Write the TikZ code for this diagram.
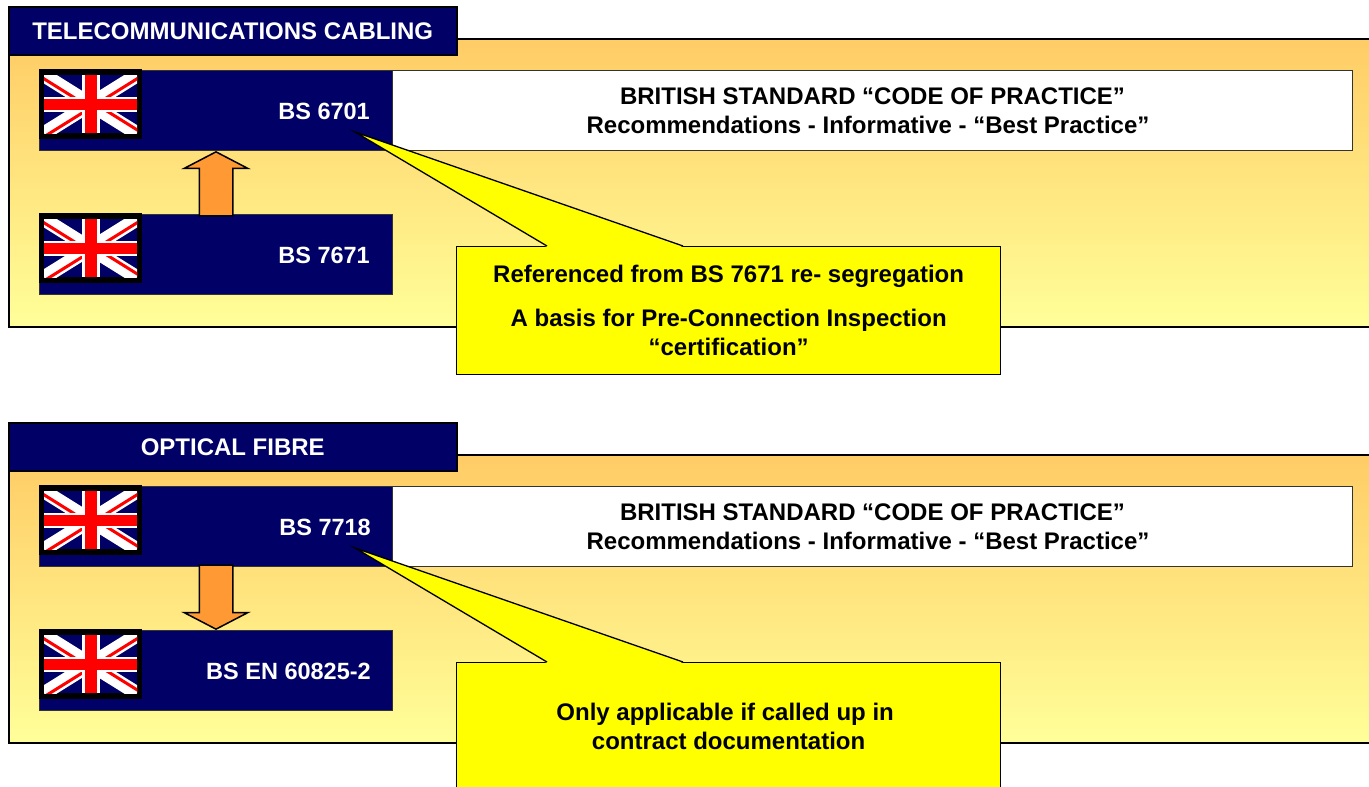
\documentclass[tikz,border=0pt]{standalone}
\usepackage{fontspec}
\setmainfont{Liberation Sans}
\usepackage{tikz}
\usetikzlibrary{calc,shapes.arrows}
\definecolor{navy}{rgb}{0,0,0.4}
\definecolor{panelTop}{rgb}{1,0.8,0.4}
\definecolor{panelBottom}{rgb}{1,1,0.6}
\definecolor{arrowOrange}{rgb}{1,0.6,0.2}
\definecolor{flagRed}{rgb}{1,0,0}
\definecolor{noteYellow}{rgb}{1,1,0}

% union flag, (#1,#2) is the top left corner of the black frame
\newcommand{\ukflag}[2]{
	\fill [black] (#1,#2) rectangle +(103,69.5);
	\begin{scope}[shift={(#1+5,#2+6.3)}]
		\clip (0,0) rectangle (93,58);
		\fill [navy] (0,0) rectangle (93,58);
		\draw [white, line width=14] (0,0) -- (93,58);
		\draw [white, line width=14] (93,0) -- (0,58);
		\draw [flagRed, line width=3] (-1.6,2.5) -- (44.9,31.5);
		\draw [flagRed, line width=3] (94.6,2.5) -- (48.1,31.5);
		\draw [flagRed, line width=3] (1.6,60.5) -- (48.1,31.5);
		\draw [flagRed, line width=3] (94.6,55.5) -- (48.1,26.5);
		\draw [white, line width=18] (46.8,0) -- (46.8,58);
		\draw [white, line width=15] (0,29) -- (93,29);
		\draw [flagRed, line width=12] (46.8,0) -- (46.8,58);
		\draw [flagRed, line width=10.5] (0,29) -- (93,29);
	\end{scope}
}

% tail of a yellow note, #1 is the note and #2 the tip
\newcommand{\notetail}[2]{
	\fill [noteYellow] (#2) -- ($(#1.north west)+(91,1)$) -- ($(#1.north west)+(227,1)$) -- cycle;
	\draw [line width=1.3, line join=miter] ($(#1.north west)+(91,0)$) -- (#2) -- ($(#1.north west)+(227,0)$);
}

\begin{document}
\begin{tikzpicture}[x=1pt, y=-1pt]
	\tikzstyle{every node} =[font=\fontsize{24}{29.5}\selectfont\bfseries, inner sep=0];
	\tikzstyle{panel} =[draw, line width=1.5, top color=panelTop, bottom color=panelBottom, minimum width=1375, minimum height=288, anchor=north west];
	\tikzstyle{header} =[draw, line width=1.5, fill=navy, text=white, minimum width=448, minimum height=48, anchor=north west];
	\tikzstyle{standard} =[draw=black!80, line width=1, fill=navy, minimum width=353, minimum height=80, anchor=north west];
	\tikzstyle{plain} =[draw=black!80, line width=1, fill=white, align=center, minimum width=960, minimum height=80, anchor=north west];
	\tikzstyle{label} =[text=white, anchor=east, font=\fontsize{23.5}{29}\selectfont\bfseries];
	\tikzstyle{note} =[draw, line width=1.3, fill=noteYellow, align=center, minimum width=544, minimum height=128, anchor=north west];
	\tikzstyle{bigarrow} =[draw, line width=1.5, fill=arrowOrange, single arrow, inner sep=16, minimum height=64, single arrow head extend=15, single arrow tip angle=125, single arrow head indent=0, anchor=tip];
	\useasboundingbox (0,0) rectangle (1369,787);
	\clip (0,0) rectangle (1369,787);

	% telecommunications cabling
	\node [panel] (panelCabling) at (8,38) {};
	\node [header] (headerCabling) at (8,6) {TELECOMMUNICATIONS CABLING};
	\node [standard] (rowSixSeven) at (39,70) {};
	\node [plain] (textCabling) at (392,70) {BRITISH STANDARD “CODE OF PRACTICE”\\Recommendations - Informative - “Best Practice”\hspace*{9pt}};
	\node [standard] (rowSevenSix) at (39,214) {};
	\ukflag{39}{69}
	\ukflag{39}{213}
	\node [label] (labelSixSeven) at (370,111) {BS 6701};
	\node [label] (labelSevenSix) at (370,255) {BS 7671};
	\node [bigarrow, rotate=90] (arrowCabling) at (rowSixSeven.south) {};
	\node [note] (noteCabling) at (456,246) {Referenced from BS 7671 re- segregation\\[14.5pt]A basis for Pre-Connection Inspection\\“certification”};
	\coordinate (tipCabling) at (355,132);
	\notetail{noteCabling}{tipCabling}

	% optical fibre
	\node [panel] (panelFibre) at (8,454) {};
	\node [header] (headerFibre) at (8,422) {OPTICAL FIBRE};
	\node [standard] (rowSevenSeven) at (39,486) {};
	\node [plain] (textFibre) at (392,486) {BRITISH STANDARD “CODE OF PRACTICE”\\Recommendations - Informative - “Best Practice”\hspace*{9pt}};
	\node [standard] (rowSixEight) at (39,630) {};
	\ukflag{39}{485}
	\ukflag{39}{629}
	\node [label] (labelSevenSeven) at (371,527) {BS 7718};
	\node [label] (labelSixEight) at (371,671) {BS EN 60825-2};
	\node [bigarrow, rotate=-90] (arrowFibre) at (rowSixEight.north) {};
	\node [note] (noteFibre) at (456,662) {Only applicable if called up in\hspace*{7pt}\\contract documentation};
	\coordinate (tipFibre) at (355,548);
	\notetail{noteFibre}{tipFibre}
\end{tikzpicture}
\end{document}
